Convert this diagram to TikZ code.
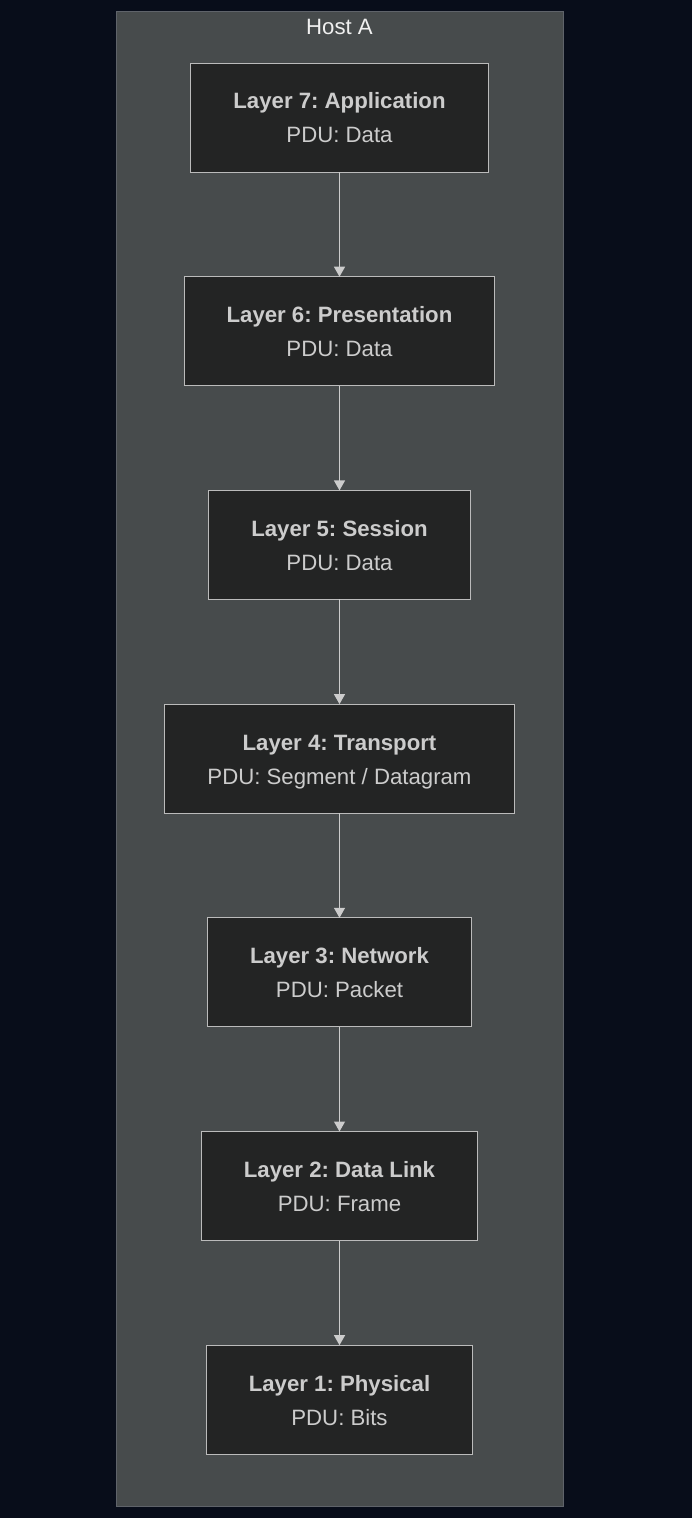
\documentclass[tikz,border=0pt]{standalone}
\usepackage{fontspec}
\setmainfont{Liberation Sans}
\usetikzlibrary{positioning,arrows.meta}
\definecolor{pagebg}{HTML}{080D1A}
\definecolor{hostfill}{HTML}{474B4C}
\definecolor{hostline}{HTML}{5F636A}
\definecolor{layerfill}{HTML}{232424}
\definecolor{layerline}{HTML}{BBBBBB}
\definecolor{layertext}{HTML}{CCCCCC}
\frenchspacing
% two-line layer label with fixed height and depth
\newcommand{\layerlabel}[2]{\rule{0pt}{21.8pt}\textbf{#1}\\#2\rule[-5pt]{0pt}{5pt}}
\begin{document}
\begin{tikzpicture}[
        x=1pt,y=-1pt,
        layer/.style={draw=layerline,fill=layerfill,line width=1pt,text=layertext,
            align=center,minimum height=109pt,inner xsep=42.5pt,inner ysep=0pt,outer sep=0pt,
            font=\fontsize{22.2pt}{34pt}\selectfont},
        flow/.style={draw=layertext,line width=1.2pt,-{Triangle[length=10pt,width=11pt]}},
        node distance=104.7pt
    ]
        % Page and host container
        \useasboundingbox[fill=pagebg] (0,0) rectangle (692,1518);
        \draw[fill=hostfill,draw=hostline,line width=1pt] (116,11) rectangle (563,1506);
        \node[text=white!94!black,font=\fontsize{22.2pt}{26pt}\selectfont] (host) at (339.5,27) {Host A};

        % Define the layers
        \node[layer] (l7) at (339.5,117.5) {\layerlabel{Layer 7: Application}{PDU: Data}};
        \node[layer,below=of l7] (l6) {\layerlabel{Layer 6: Presentation}{PDU: Data}};
        \node[layer,below=of l6] (l5) {\layerlabel{Layer 5: Session}{PDU: Data}};
        \node[layer,below=of l5] (l4) {\layerlabel{Layer 4: Transport}{PDU: Segment / Datagram}};
        \node[layer,below=of l4] (l3) {\layerlabel{Layer 3: Network}{PDU: Packet}};
        \node[layer,below=of l3] (l2) {\layerlabel{Layer 2: Data Link}{PDU: Frame}};
        \node[layer,below=of l2] (l1) {\layerlabel{Layer 1: Physical}{PDU: Bits}};

        % Connect the layers
        \draw[flow] (l7) -- (l6);
        \draw[flow] (l6) -- (l5);
        \draw[flow] (l5) -- (l4);
        \draw[flow] (l4) -- (l3);
        \draw[flow] (l3) -- (l2);
        \draw[flow] (l2) -- (l1);
    \end{tikzpicture}
\end{document}
